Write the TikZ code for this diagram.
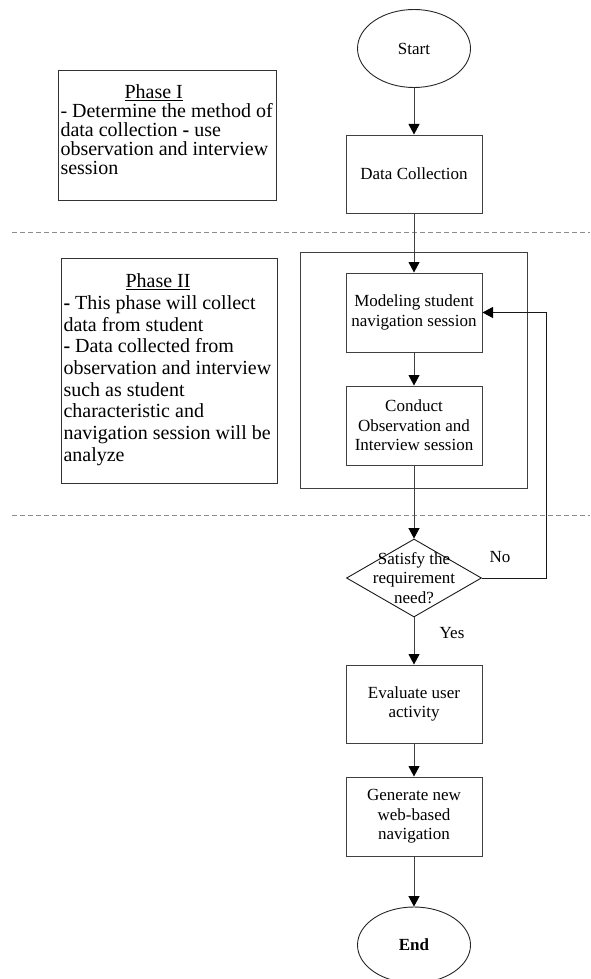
\documentclass[tikz,border=0pt]{standalone}
\usepackage{fontspec}
\setmainfont{Liberation Serif}
\usetikzlibrary{shapes.geometric,arrows.meta}
\newcommand\pline[1]{\mbox{#1}\\}
\begin{document}
\begin{tikzpicture}[x=1pt,y=-1pt,
  txt/.style={font=\fontsize{17}{19.5}\selectfont},
  box/.style={draw=black!75, line width=1pt, rectangle, minimum width=136pt, minimum height=79pt, align=center, inner sep=0pt, txt},
  term/.style={draw=black!85, line width=0.9pt, ellipse, minimum width=113pt, minimum height=78pt, inner sep=0pt, txt},
  arr/.style={draw=black!75, line width=1pt, -{Triangle[length=10.5pt,width=11pt,color=black]}},
  sepline/.style={draw=black!45, line width=1pt, dash pattern=on 5pt off 3pt},
  phase/.style={draw=black!80, line width=1pt, anchor=north west, inner xsep=2pt, inner ysep=0pt, txt}
]
\useasboundingbox (0,0) rectangle (590,979);

% separators
\coordinate (s1a) at (12,232);
\coordinate (s1b) at (590,232);
\coordinate (s2a) at (12,515);
\coordinate (s2b) at (590,515);
\draw[sepline] (s1a) -- (s1b);
\draw[sepline] (s2a) -- (s2b);

% phase boxes
\node[phase, minimum width=218pt] (p1) at (58,70) {\parbox[t][130pt][t]{214pt}{\fontsize{20}{19}\selectfont\vspace*{14.5pt}\pline{\hspace*{64pt}\underline{Phase I}}\pline{- Determine the method of}\pline{data collection \textbf{-} use}\pline{observation and interview}\mbox{session}}};

\node[phase, minimum width=216pt] (p2) at (61,258) {\parbox[t][225pt][t]{212pt}{\fontsize{20}{21.7}\selectfont\vspace*{15.4pt}\pline{\hspace*{62pt}\underline{Phase II}}\pline{\textbf{-} This phase will collect}\pline{data from student}\pline{\textbf{-} Data collected from}\pline{observation and interview}\pline{such as student}\pline{characteristic and}\pline{navigation session will be}\mbox{analyze}}};

% flow
\node[term] (start) at (414,48.5) {Start};
\node[box, minimum height=78pt] (dc) at (414,174) {Data Collection};
\node[draw=black!75, line width=1pt, rectangle, minimum width=227pt, minimum height=236pt, inner sep=0pt] (frame) at (413.5,370) {};
\node[box] (model) at (414,312.5) {Modeling student\\navigation session};
\node[box] (conduct) at (414,425.5) {Conduct\\Observation and\\Interview session};
\node[draw=black!90, line width=0.9pt, diamond, minimum width=135pt, minimum height=78pt, inner sep=0pt] (dec) at (414,578) {};
\node[txt, align=center, inner sep=0pt] (dectext) at (414,578) {Satisfy the\\requirement\\need?};
\node[box, minimum height=78pt] (eval) at (414,704) {Evaluate user\\activity};
\node[box] (gen) at (414,816.5) {Generate new\\web-based\\navigation};
\node[term, minimum height=76pt, font=\fontsize{17}{19.5}\selectfont\bfseries] (end) at (414,945) {End};

\node[txt, inner sep=0pt] (no) at (500,557) {No};
\node[txt, inner sep=0pt] (yes) at (452,633) {Yes};

\coordinate (fb) at (546,0);

\draw[arr] (start) -- (dc);
\draw[arr] (dc) -- (model);
\draw[arr] (model) -- (conduct);
\draw[arr] (conduct) -- (dec.north);
\draw[arr, draw=black!90] (dec.east) -- (dec.east -| fb) -- (fb |- model.east) -- (model.east);
\draw[arr] (dec.south) -- (eval);
\draw[arr] (eval) -- (gen);
\draw[arr] (gen) -- (end);
\end{tikzpicture}
\end{document}
